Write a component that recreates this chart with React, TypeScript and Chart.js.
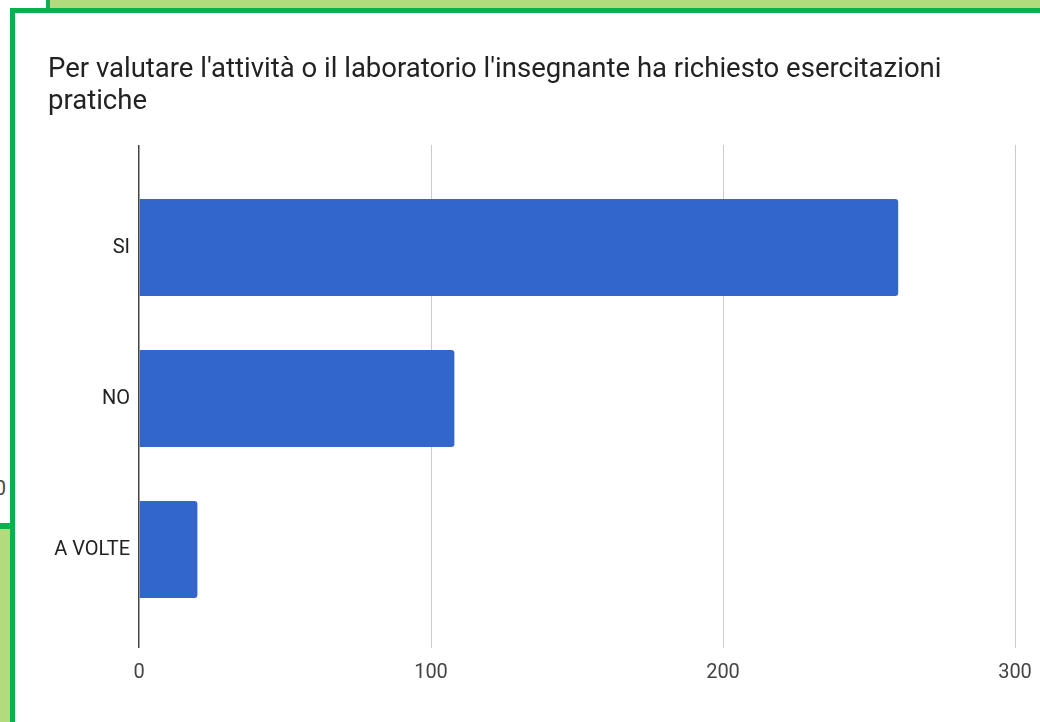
import React, { useEffect, useRef } from 'react';
import { Chart, registerables } from 'chart.js';

Chart.register(...registerables);

const titleLines = [
  "Per valutare l'attività o il laboratorio l'insegnante ha richiesto esercitazioni",
  'pratiche',
];
const categories = ['SI', 'NO', 'A VOLTE'];
const values = [260, 108, 20];
const xTickValues = [0, 100, 200, 300];

const GREEN = '#0cb14f';
const LIGHT_GREEN = '#b1dc7d';
const BAR = '#3366cc';

export default function App() {
  const canvasRef = useRef<HTMLCanvasElement | null>(null);

  useEffect(() => {
    const canvas = canvasRef.current;
    if (!canvas) return;
    const chart = new Chart(canvas, {
      type: 'bar',
      data: {
        datasets: [
          {
            data: categories.map((_, i) => ({ x: values[i], y: i })),
            backgroundColor: BAR,
            borderRadius: 3,
            borderSkipped: 'start',
            categoryPercentage: 1,
            barPercentage: 0.642,
          },
        ],
      },
      options: {
        indexAxis: 'y',
        responsive: false,
        animation: false,
        layout: { padding: { left: 33, right: 25, top: 0, bottom: 0 } },
        plugins: {
          legend: { display: false },
          tooltip: { enabled: false },
          title: {
            display: true,
            text: titleLines,
            align: 'start',
            color: '#222222',
            font: { family: 'Roboto', size: 27.5, weight: 'normal', lineHeight: 32 / 27.5 },
            padding: { top: 41, bottom: 27 },
          },
        },
        scales: {
          x: {
            type: 'linear',
            min: 0,
            max: 300,
            afterBuildTicks: (axis: any) => {
              axis.ticks = xTickValues.map((v) => ({ value: v }));
            },
            grid: {
              drawTicks: false,
              color: (ctx: any) => (ctx.tick && ctx.tick.value === 0 ? '#444444' : '#cccccc'),
              lineWidth: (ctx: any) => (ctx.tick && ctx.tick.value === 0 ? 1.5 : 1),
            },
            border: { display: false },
            ticks: {
              color: '#444444',
              padding: 13,
              font: { family: 'Roboto', size: 20 },
            },
            afterFit: (axis: any) => {
              axis.height = 74;
              axis.paddingLeft = 0;
              axis.paddingRight = 0;
            },
          },
          y: {
            type: 'linear',
            reverse: true,
            offset: false,
            min: -0.679,
            max: 2.652,
            afterBuildTicks: (axis: any) => {
              axis.ticks = categories.map((_, i) => ({ value: i }));
            },
            grid: { display: false, drawTicks: false },
            border: { display: false },
            ticks: {
              color: '#222222',
              padding: 9,
              font: { family: 'Roboto', size: 20 },
              callback: (v: any) => categories[Number(v)] ?? '',
            },
            afterFit: (axis: any) => {
              axis.width = 91;
            },
          },
        },
      },
    });
    return () => chart.destroy();
  }, []);

  const abs = (s: React.CSSProperties): React.CSSProperties => ({ position: 'absolute', ...s });

  return (
    <div
      style={{
        position: 'fixed',
        left: 0,
        top: 0,
        width: 1040,
        height: 722,
        overflow: 'hidden',
        background: '#ffffff',
        fontFamily: 'Roboto, sans-serif',
      }}
    >
      {/* top neighbouring panel */}
      <div style={abs({ left: 50, top: 0, width: 990, height: 8, background: LIGHT_GREEN })} />
      <div style={abs({ left: 46, top: 0, width: 4, height: 8, background: GREEN })} />
      {/* bottom-left neighbouring panel */}
      <div style={abs({ left: 0, top: 529, width: 10, height: 193, background: LIGHT_GREEN })} />
      <div style={abs({ left: 0, top: 523, width: 12, height: 6, background: GREEN })} />
      {/* clipped tick label from neighbouring chart */}
      <div
        style={abs({
          left: -10,
          top: 476,
          width: 16,
          fontSize: 20,
          lineHeight: '24px',
          color: '#444444',
          textAlign: 'right',
        })}
      >
        0
      </div>
      {/* main card border */}
      <div style={abs({ left: 10, top: 8, width: 1030, height: 5, background: GREEN })} />
      <div style={abs({ left: 10, top: 8, width: 5, height: 714, background: GREEN })} />
      <canvas
        ref={canvasRef}
        width={1025}
        height={709}
        style={abs({ left: 15, top: 13, width: 1025, height: 709 })}
      />
    </div>
  );
}
